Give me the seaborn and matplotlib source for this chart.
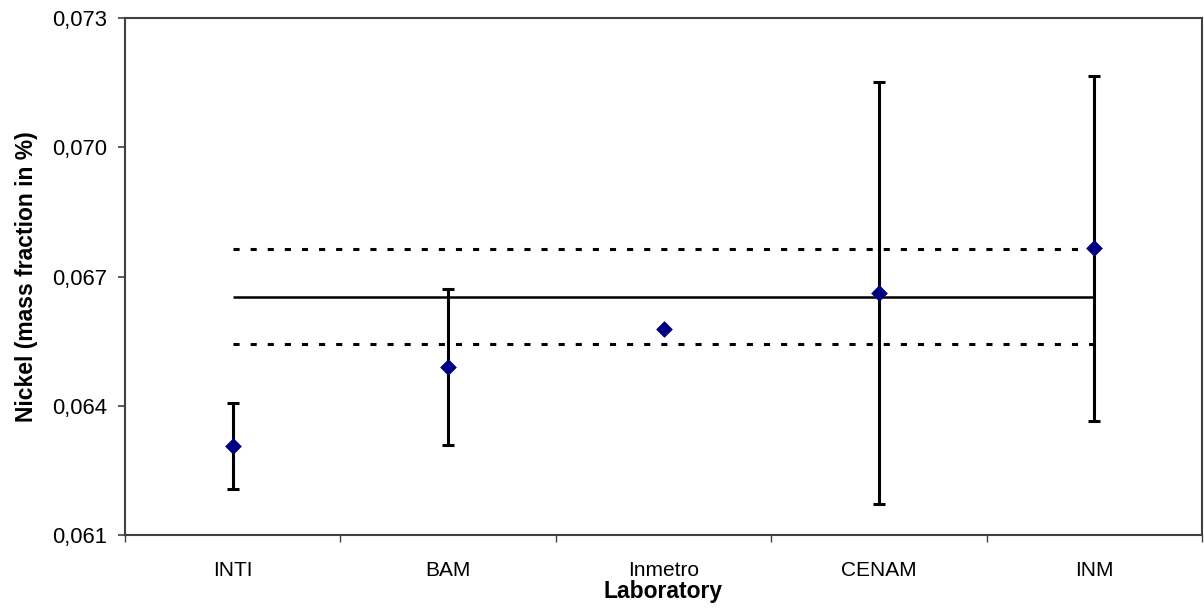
import matplotlib
matplotlib.use("Agg")
import matplotlib.pyplot as plt
import matplotlib.ticker as mticker
import seaborn as sns
import pandas as pd
import numpy as np

# values
labs = ["INTI", "BAM", "Inmetro", "CENAM", "INM"]
nickel = [0.06307, 0.06489, 0.06577, 0.06661, 0.06765]
unc = [0.00100, 0.00181, 0.0, 0.00490, 0.00400]

ref_value = 0.06652
ref_upper = 0.06763
ref_lower = 0.06544

yticks = [0.061, 0.064, 0.067, 0.070, 0.073]

sns.set_theme(style="white")
plt.rcParams["font.family"] = ["Liberation Sans", "DejaVu Sans"]

df = pd.DataFrame({"lab": labs, "nickel": nickel, "unc": unc})

fig = plt.figure(figsize=(12.04, 6.12), dpi=100)
ax = fig.add_axes([125 / 1204, 1 - 535 / 612, 1077 / 1204, 517 / 612])

pos = np.arange(len(labs))
ax.errorbar(pos, df["nickel"], yerr=df["unc"], fmt="none", ecolor="black",
            elinewidth=2.2, capsize=4.3, capthick=2.2, zorder=2)

ax.hlines(ref_value, pos[0], pos[-1], colors="black", linewidth=1.8, zorder=1)
for y in (ref_upper, ref_lower):
    ax.hlines(y, pos[0], pos[-1], colors="black", linewidth=2.2,
              linestyles=(0, (2, 3.6)), zorder=1)

sns.scatterplot(data=df, x="lab", y="nickel", marker="D", s=64,
                color="#000080", edgecolor="#000080", linewidth=0.5,
                ax=ax, zorder=3, legend=False)

ax.set_xlim(-0.5, len(labs) - 0.5)
ax.set_ylim(yticks[0], yticks[-1])
ax.set_yticks(yticks)
ax.yaxis.set_major_formatter(
    mticker.FuncFormatter(lambda v, _: f"{v:.3f}".replace(".", ",")))

ax.set_xticks(np.arange(-0.5, len(labs)))
ax.xaxis.set_major_formatter(mticker.NullFormatter())
ax.set_xticks(pos, minor=True)
ax.set_xticklabels(labs, minor=True)

ax.tick_params(axis="y", which="major", left=True, length=5, width=1.2,
               color="#404040", labelsize=15.8, pad=8, labelcolor="black")
ax.tick_params(axis="x", which="major", bottom=True, length=5, width=1.0,
               color="#404040")
ax.tick_params(axis="x", which="minor", bottom=True, length=0, pad=19,
               labelsize=15, labelcolor="black")

for sp in ax.spines.values():
    sp.set_visible(True)
    sp.set_color("#404040")
    sp.set_linewidth(1.5)

ax.set_xlabel("Laboratory", fontsize=16.5, fontweight="bold", labelpad=0,
              color="black")
ax.set_ylabel("Nickel (mass fraction in %)", fontsize=16.5,
              fontweight="bold", labelpad=10, color="black")

fig.savefig("out.png", dpi=100)
